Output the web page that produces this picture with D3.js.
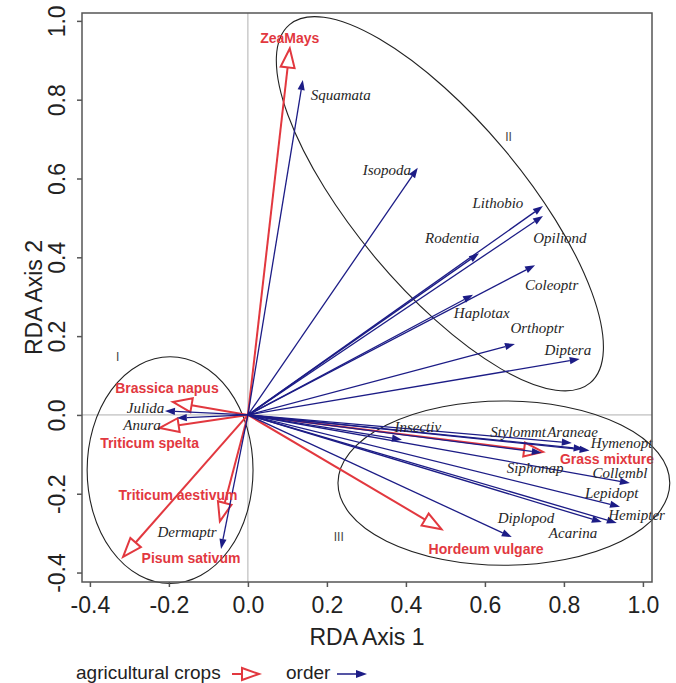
<!DOCTYPE html>
<html>
<head>
<meta charset="utf-8">
<script src="https://cdn.jsdelivr.net/npm/d3@7"></script>
<style>
  body { margin: 0; background: #fff; }
  svg { display: block; }
</style>
</head>
<body>
<div id="graph-container"></div>
<script>
// Colture agricole (frecce rosse) - punte in unità RDA
const cropNames = ["ZeaMays", "Brassica napus", "Triticum spelta", "Triticum aestivum", "Pisum sativum", "Grass mixture", "Hordeum vulgare"];
const cropX = [0.106, -0.19, -0.223, -0.071, -0.316, 0.747, 0.49];
const cropY = [0.93, 0.033, -0.033, -0.27, -0.36, -0.094, -0.29];
// posizione delle etichette (unità RDA)
const cropLabelX = [0.106, -0.205, -0.249, -0.177, -0.144, 0.909, 0.603];
const cropLabelY = [0.957, 0.069, -0.071, -0.203, -0.363, -0.112, -0.34];

// Ordini (frecce blu)
const orderNames = ["Squamata", "Isopoda", "Lithobio", "Opiliond", "Rodentia", "Coleoptr", "Haplotax", "Orthoptr", "Diptera",
  "Julida", "Anura", "Dermaptr", "Insectiv", "Stylommt", "Araneae", "Hymenopt", "Siphonap", "Collembl", "Lepidopt",
  "Hemipter", "Acarina", "Diplopod"];
const orderX = [0.139, 0.43, 0.747, 0.747, 0.585, 0.727, 0.57, 0.676, 0.84,
  -0.21, -0.18, -0.068, 0.39, 0.82, 0.85, 0.865, 0.744, 0.967, 0.942,
  0.934, 0.896, 0.668];
const orderY = [0.85, 0.627, 0.53, 0.505, 0.41, 0.38, 0.305, 0.18, 0.142,
  0.01, -0.008, -0.34, -0.063, -0.071, -0.086, -0.09, -0.096, -0.173, -0.233,
  -0.274, -0.272, -0.31];
const orderLabelX = [0.235, 0.352, 0.633, 0.79, 0.517, 0.769, 0.592, 0.732, 0.81,
  -0.259, -0.268, -0.154, 0.43, 0.684, 0.822, 0.946, 0.727, 0.942, 0.921,
  0.984, 0.823, 0.704];
const orderLabelY = [0.812, 0.622, 0.538, 0.449, 0.449, 0.33, 0.259, 0.221, 0.165,
  0.018, -0.025, -0.297, -0.03, -0.043, -0.043, -0.071, -0.135, -0.148, -0.198,
  -0.254, -0.3, -0.261];

// Gruppi (ellissi): centro, semiassi, rotazione
const groupNames = ["I", "II", "III"];
const groupCx = [-0.197, 0.486, 0.648];
const groupCy = [-0.14, 0.536, -0.173];
const groupRx = [0.21, 0.592, 0.42];
const groupRy = [0.287, 0.213, 0.208];
const groupAngle = [0, 50, 0];
const groupLabelX = [-0.33, 0.66, 0.23];
const groupLabelY = [0.148, 0.705, -0.31];

const axisTicks = [-0.4, -0.2, 0.0, 0.2, 0.4, 0.6, 0.8, 1.0];
const yTicks = [-0.4, -0.2, 0.0, 0.2, 0.4, 0.6, 0.8, 1.0];

const RED = "#e2383f";
const BLUE = "#1c1c86";

function drawChart() {
  const width = 676, height = 683;
  const svg = d3.select("#graph-container").append("svg")
      .attr("width", width)
      .attr("height", height);

  const x = d3.scaleLinear().domain([-0.42, 1.023]).range([82, 652]);
  const y = d3.scaleLinear().domain([-0.424, 1.02]).range([582, 13]);

  // linee dello zero
  svg.append("line")
      .attr("x1", x(0)).attr("x2", x(0))
      .attr("y1", y.range()[1]).attr("y2", y.range()[0])
      .attr("stroke", "#b0b0b0").attr("stroke-width", 1);
  svg.append("line")
      .attr("x1", x.range()[0]).attr("x2", x.range()[1])
      .attr("y1", y(0)).attr("y2", y(0))
      .attr("stroke", "#b0b0b0").attr("stroke-width", 1);

  // ellissi dei gruppi
  const pxPerUnit = x(1) - x(0);
  groupNames.forEach((g, i) => {
    svg.append("ellipse")
        .attr("cx", 0).attr("cy", 0)
        .attr("rx", groupRx[i] * pxPerUnit)
        .attr("ry", groupRy[i] * pxPerUnit)
        .attr("transform", `translate(${x(groupCx[i])},${y(groupCy[i])}) rotate(${groupAngle[i]})`)
        .attr("fill", "none")
        .attr("stroke", "#222")
        .attr("stroke-width", 1.1);
    svg.append("text")
        .attr("x", x(groupLabelX[i]))
        .attr("y", y(groupLabelY[i]))
        .attr("dy", "0.35em")
        .attr("text-anchor", "middle")
        .attr("font-family", "Liberation Sans, Arial, sans-serif")
        .attr("font-size", "12px")
        .attr("fill", "#444")
        .text(g);
  });

  const ox = x(0), oy = y(0);

  // frecce rosse (colture) con punta a triangolo aperto
  cropNames.forEach((c, i) => {
    const tx = x(cropX[i]), ty = y(cropY[i]);
    const ang = Math.atan2(ty - oy, tx - ox);
    const L = 19, hw = 7;
    const bx = tx - L * Math.cos(ang), by = ty - L * Math.sin(ang);
    svg.append("line")
        .attr("x1", ox).attr("y1", oy).attr("x2", bx).attr("y2", by)
        .attr("stroke", RED).attr("stroke-width", 2);
    const p1 = [bx + hw * Math.sin(ang), by - hw * Math.cos(ang)];
    const p2 = [bx - hw * Math.sin(ang), by + hw * Math.cos(ang)];
    svg.append("path")
        .attr("d", `M${tx},${ty}L${p1[0]},${p1[1]}L${p2[0]},${p2[1]}Z`)
        .attr("fill", "#fff")
        .attr("stroke", RED)
        .attr("stroke-width", 2)
        .attr("stroke-linejoin", "miter");
  });

  // frecce blu (ordini)
  orderNames.forEach((o, i) => {
    const tx = x(orderX[i]), ty = y(orderY[i]);
    const ang = Math.atan2(ty - oy, tx - ox);
    const L = 10, hw = 3.6;
    const bx = tx - L * Math.cos(ang), by = ty - L * Math.sin(ang);
    svg.append("line")
        .attr("x1", ox).attr("y1", oy).attr("x2", bx).attr("y2", by)
        .attr("stroke", BLUE).attr("stroke-width", 1.3);
    svg.append("path")
        .attr("d", `M${tx},${ty}L${bx + hw * Math.sin(ang)},${by - hw * Math.cos(ang)}L${bx - hw * Math.sin(ang)},${by + hw * Math.cos(ang)}Z`)
        .attr("fill", BLUE);
  });

  // etichette ordini
  svg.selectAll(".order-label")
      .data(orderNames)
      .enter().append("text")
      .attr("class", "order-label")
      .attr("x", (d, i) => x(orderLabelX[i]))
      .attr("y", (d, i) => y(orderLabelY[i]))
      .attr("dy", "0.35em")
      .attr("text-anchor", "middle")
      .attr("font-family", "Liberation Serif, Times New Roman, serif")
      .attr("font-style", "italic")
      .attr("font-size", "15px")
      .attr("fill", "#262626")
      .text(d => d);

  // etichette colture
  svg.selectAll(".crop-label")
      .data(cropNames)
      .enter().append("text")
      .attr("class", "crop-label")
      .attr("x", (d, i) => x(cropLabelX[i]))
      .attr("y", (d, i) => y(cropLabelY[i]))
      .attr("dy", "0.35em")
      .attr("text-anchor", "middle")
      .attr("font-family", "Liberation Sans, Arial, sans-serif")
      .attr("font-weight", "bold")
      .attr("font-size", "14px")
      .attr("fill", RED)
      .text(d => d);

  // cornice
  svg.append("rect")
      .attr("x", x.range()[0]).attr("y", y.range()[1])
      .attr("width", x.range()[1] - x.range()[0])
      .attr("height", y.range()[0] - y.range()[1])
      .attr("fill", "none")
      .attr("stroke", "#555")
      .attr("stroke-width", 1.5);

  const fmt = d => d.toFixed(1);

  // asse x
  const gx = svg.append("g")
      .attr("transform", `translate(0,${y.range()[0]})`)
      .call(d3.axisBottom(x).tickValues(axisTicks).tickFormat(fmt).tickSizeInner(5).tickSizeOuter(0));
  gx.select(".domain").remove();
  gx.selectAll(".tick line").attr("stroke", "#555").attr("stroke-width", 1.5);
  gx.selectAll(".tick text")
      .attr("y", 31).attr("dy", null)
      .attr("font-family", "Liberation Sans, Arial, sans-serif")
      .attr("font-size", "23px")
      .attr("fill", "#222");

  // asse y con etichette ruotate
  const gy = svg.append("g")
      .attr("transform", `translate(${x.range()[0]},0)`)
      .call(d3.axisLeft(y).tickValues(yTicks).tickFormat(fmt).tickSizeInner(5).tickSizeOuter(0));
  gy.select(".domain").remove();
  gy.selectAll(".tick line").attr("stroke", "#555").attr("stroke-width", 1.5);
  gy.selectAll(".tick text")
      .attr("x", 0).attr("y", -17).attr("dy", null)
      .attr("transform", "rotate(-90)")
      .attr("text-anchor", "middle")
      .attr("font-family", "Liberation Sans, Arial, sans-serif")
      .attr("font-size", "23px")
      .attr("fill", "#222");

  // titoli degli assi
  svg.append("text")
      .attr("x", (x.range()[0] + x.range()[1]) / 2)
      .attr("y", 645)
      .attr("text-anchor", "middle")
      .attr("font-family", "Liberation Sans, Arial, sans-serif")
      .attr("font-size", "23px")
      .attr("fill", "#222")
      .text("RDA Axis 1");
  svg.append("text")
      .attr("transform", `translate(42,${(y.range()[0] + y.range()[1]) / 2}) rotate(-90)`)
      .attr("text-anchor", "middle")
      .attr("font-family", "Liberation Sans, Arial, sans-serif")
      .attr("font-size", "23px")
      .attr("fill", "#222")
      .text("RDA Axis 2");

  // legenda
  const legY = 674;
  svg.append("text")
      .attr("x", 76).attr("y", 679)
      .attr("font-family", "Liberation Sans, Arial, sans-serif")
      .attr("font-size", "19px")
      .attr("fill", "#222")
      .text("agricultural crops");
  svg.append("line")
      .attr("x1", 232).attr("x2", 242).attr("y1", legY).attr("y2", legY)
      .attr("stroke", RED).attr("stroke-width", 2);
  svg.append("path")
      .attr("d", `M259,${legY}L242,${legY - 6}L242,${legY + 6}Z`)
      .attr("fill", "#fff").attr("stroke", RED).attr("stroke-width", 2);
  svg.append("text")
      .attr("x", 286).attr("y", 679)
      .attr("font-family", "Liberation Sans, Arial, sans-serif")
      .attr("font-size", "19px")
      .attr("fill", "#222")
      .text("order");
  svg.append("line")
      .attr("x1", 337).attr("x2", 357).attr("y1", legY).attr("y2", legY)
      .attr("stroke", BLUE).attr("stroke-width", 1.5);
  svg.append("path")
      .attr("d", `M367,${legY}L356,${legY - 4}L356,${legY + 4}Z`)
      .attr("fill", BLUE);
}

if (document.readyState === "loading") {
  document.addEventListener("DOMContentLoaded", drawChart);
} else {
  drawChart();
}
</script>
</body>
</html>
